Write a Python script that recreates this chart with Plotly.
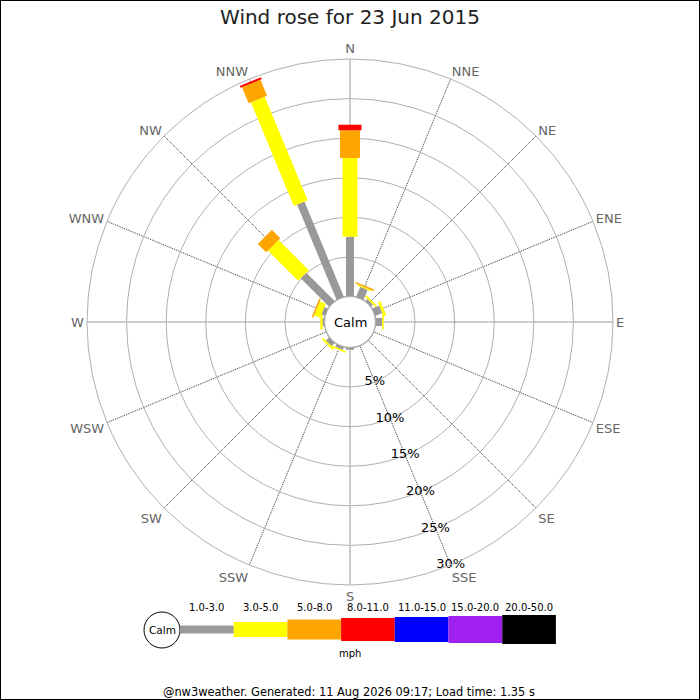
import plotly.graph_objects as go

# направления и классы скорости
directions = ["N", "NNE", "NE", "ENE", "E", "ESE", "SE", "SSE",
              "S", "SSW", "SW", "WSW", "W", "WNW", "NW", "NNW"]
speed_classes = ["1.0-3.0", "3.0-5.0", "5.0-8.0", "8.0-11.0",
                 "11.0-15.0", "15.0-20.0", "20.0-50.0"]
class_colors = ["#999999", "#ffff00", "#ffa500", "#ff0000",
                "#0000ff", "#a020f0", "#000000"]
class_widths = [8, 15, 20, 23, 25, 27, 29]

# частоты, % (по направлениям, в порядке directions)
freq_1_3 = [7.56, 1.4, 0.4, 1.0, 0.85, 0, 0, 0, 0.3, 0.4, 0.6, 0, 0.25, 0.5, 5.1, 13.05]
freq_3_5 = [9.95, 0.15, 0.25, 0.35, 0.2, 0, 0, 0, 0, 0.2, 0.25, 0, 0.3, 0.8, 5.4, 14.15]
freq_5_8 = [3.5, 0.2, 0, 0, 0, 0, 0, 0, 0, 0, 0, 0, 0, 0.2, 1.5, 2.2]
freq_8_11 = [0.7, 0, 0, 0, 0, 0, 0, 0, 0, 0, 0, 0, 0, 0, 0, 0.25]
freqs = [freq_1_3, freq_3_5, freq_5_8, freq_8_11]

ring_vals = [5, 10, 15, 20, 25, 30]
ring_labels = ["5%", "10%", "15%", "20%", "25%", "30%"]

title_text = "Wind rose for 23 Jun 2015"
footer_text = "@nw3weather. Generated: 11 Aug 2026 09:17; Load time: 1.35 s"

W, H = 700, 700


def px_x(x):
    return x / W


def px_y(y):
    return 1 - y / H


def add_text(fig, text, x, y, size, color="black"):
    fig.add_annotation(text=text, x=px_x(x), y=px_y(y), xref="paper", yref="paper",
                       xanchor="center", yanchor="middle", showarrow=False,
                       font=dict(size=size, color=color))


fig = go.Figure()

# круг штиля (по краю отверстия)
fig.add_trace(go.Scatterpolar(
    r=[0] * 17, theta=directions + ["N"], mode="lines",
    line=dict(color="#aaaaaa", width=2, shape="spline"),
    hoverinfo="skip", showlegend=False,
))

# накопленные столбики
base = [0.0] * len(directions)
for k, f in enumerate(freqs):
    rr, tt = [], []
    for i, d in enumerate(directions):
        if f[i] > 0:
            rr += [base[i], base[i] + f[i], None]
            tt += [d, d, d]
        base[i] += f[i]
    fig.add_trace(go.Scatterpolar(
        r=rr, theta=tt, mode="lines",
        line=dict(color=class_colors[k], width=class_widths[k]),
        connectgaps=False, name=speed_classes[k], showlegend=False,
    ))

# подписи колец
fig.add_trace(go.Scatterpolar(
    r=ring_vals, theta=["SSE"] * len(ring_vals), mode="text",
    text=ring_labels, textfont=dict(size=13, color="black"),
    cliponaxis=False, hoverinfo="skip", showlegend=False,
))

fig.update_layout(
    width=W, height=H,
    margin=dict(l=0, r=0, t=0, b=0),
    paper_bgcolor="white",
    font=dict(family="DejaVu Sans", color="#222222"),
    title=dict(text=title_text, x=0.5, xanchor="center",
               y=px_y(17), yanchor="middle", font=dict(size=20, color="#222222")),
    polar=dict(
        domain=dict(x=[px_x(87), px_x(613)], y=[px_y(585), px_y(59)]),
        hole=0.0966,
        bgcolor="white",
        radialaxis=dict(range=[0, 30], tickvals=ring_vals, showticklabels=False,
                        ticks="", showline=False, gridcolor="#b0b0b0", gridwidth=1),
        angularaxis=dict(type="category", categoryarray=directions,
                         direction="clockwise", rotation=90,
                         showline=True, linecolor="#b0b0b0", linewidth=1,
                         gridcolor="#333333", griddash="1px,1px", gridwidth=1,
                         ticks="", tickfont=dict(size=13, color="#666666")),
    ),
)

add_text(fig, "Calm", 350, 322, 13)

# легенда
fig.add_shape(type="circle", xref="paper", yref="paper",
              x0=px_x(144), x1=px_x(180), y0=px_y(648), y1=px_y(612),
              line=dict(color="black", width=1), fillcolor="white")
add_text(fig, "Calm", 162, 630, 10.5)
seg_w = 53.7
for k, lab in enumerate(speed_classes):
    x0 = 180 + k * seg_w
    h = class_widths[k]
    fig.add_shape(type="rect", xref="paper", yref="paper",
                  x0=px_x(x0), x1=px_x(x0 + seg_w),
                  y0=px_y(629.5 + h / 2), y1=px_y(629.5 - h / 2),
                  line=dict(width=0), fillcolor=class_colors[k])
    add_text(fig, lab, x0 + seg_w / 2, 607, 10)
add_text(fig, "mph", 350, 653, 10)
add_text(fig, footer_text, 349, 692, 11.4)

# рамка
fig.add_shape(type="rect", xref="paper", yref="paper", x0=0, x1=1, y0=0, y1=1,
              line=dict(color="black", width=2))

fig.write_html("out.html", config={"displayModeBar": False},
               post_script="document.body.style.margin='0';")
